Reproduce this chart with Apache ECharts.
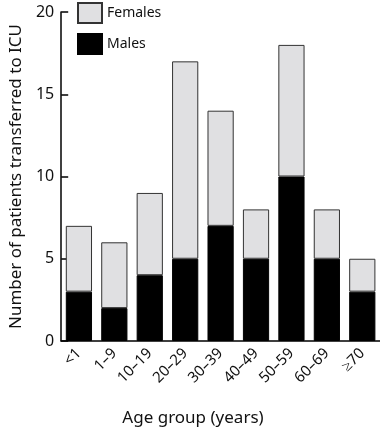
<!DOCTYPE html>
<html>
<head>
<meta charset="utf-8">
<script src="https://cdn.jsdelivr.net/npm/echarts@6/dist/echarts.min.js"></script>
<style>
html,body{margin:0;padding:0;background:#fff;}
#chart{width:380px;height:431px;}
</style>
</head>
<body>
<div id="chart"></div>
<script>
var categories = ['<1', '1–9', '10–19', '20–29', '30–39', '40–49', '50–59', '60–69', '≥70'];
var males = [3, 2, 4, 5, 7, 5, 10, 5, 3];
var females = [4, 4, 5, 12, 7, 3, 8, 3, 2];
var yTicks = [0, 5, 10, 15, 20];

var FONT = '"Noto Sans"';
var chart = echarts.init(document.getElementById('chart'), null, {renderer: 'canvas'});
chart.setOption({
  animation: false,
  textStyle: {fontFamily: FONT},
  grid: {left: 51, right: 0, top: 12, bottom: 90},
  legend: {
    data: ['Females', 'Males'],
    orient: 'vertical',
    left: 77, top: 2,
    padding: 0,
    itemWidth: 24, itemHeight: 20, itemGap: 9,
    icon: 'rect',
    textStyle: {fontSize: 14, color: '#111', fontFamily: FONT}
  },
  xAxis: {
    type: 'category',
    data: categories,
    axisLine: {lineStyle: {color: '#000', width: 1.5}},
    axisTick: {show: false},
    axisLabel: {rotate: 45, fontSize: 15, color: '#111', margin: 10, fontFamily: FONT, interval: 0}
  },
  yAxis: {
    type: 'value',
    min: yTicks[0], max: yTicks[yTicks.length - 1], interval: 5,
    name: 'Number of patients transferred to ICU',
    nameLocation: 'middle',
    nameGap: 35,
    nameTextStyle: {fontSize: 17, color: '#111', fontFamily: FONT},
    axisLine: {show: true, lineStyle: {color: '#000', width: 1.5}},
    axisTick: {show: true, inside: true, length: 7, lineStyle: {color: '#000', width: 1.5}},
    axisLabel: {fontSize: 16, color: '#111', margin: 7, fontFamily: FONT,
      formatter: function (v) { return yTicks.indexOf(v) >= 0 ? String(v) : ''; }},
    splitLine: {show: false}
  },
  graphic: [{
    type: 'text',
    x: 193, y: 418,
    style: {text: 'Age group (years)', fontSize: 17, fill: '#111', fontFamily: FONT,
      textAlign: 'center', textVerticalAlign: 'middle'}
  }],
  series: [
    {
      name: 'Males', type: 'bar', stack: 'a', data: males,
      barCategoryGap: '26%',
      itemStyle: {color: '#000', borderColor: '#000', borderWidth: 1}
    },
    {
      name: 'Females', type: 'bar', stack: 'a', data: females,
      barCategoryGap: '26%',
      itemStyle: {color: '#e0e0e2', borderColor: '#333', borderWidth: 1}
    }
  ]
});
</script>
</body>
</html>
